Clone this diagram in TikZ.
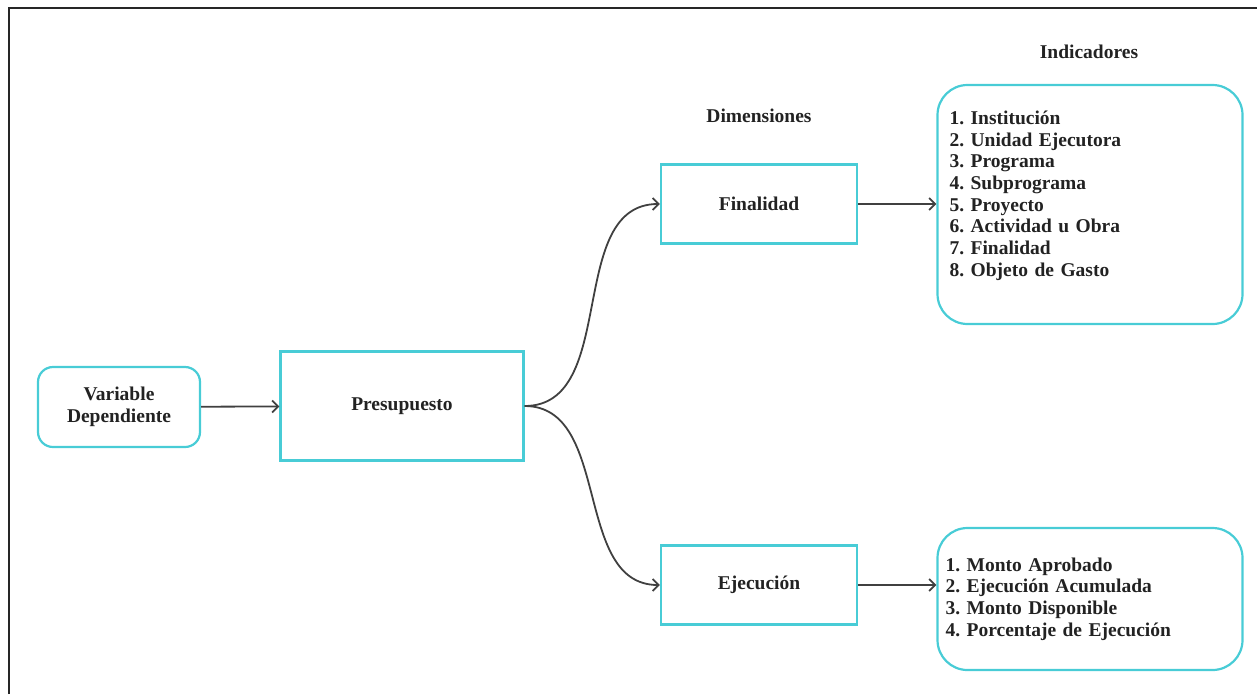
\documentclass[tikz,border=0pt]{standalone}
\usepackage{fontspec}
\setmainfont{Liberation Serif}
\usetikzlibrary{arrows.meta}
\definecolor{cian}{RGB}{72,204,214}
\definecolor{linea}{RGB}{64,64,64}
\definecolor{texto}{RGB}{34,34,34}

\begin{document}
\frenchspacing
\begin{tikzpicture}[x=1pt,y=-1pt,
    caja/.style={draw=cian, line width=2.2pt, text=texto, align=center,
        font=\fontsize{19.5}{21.7}\selectfont\bfseries},
    lista/.style={caja, rounded corners=30pt, align=left, inner xsep=10pt},
    titulo/.style={text=texto, font=\fontsize{19.5}{21.7}\selectfont\bfseries},
    flecha/.style={draw=linea, line width=1.8pt,
        -{Straight Barb[length=6pt,width=12pt,line width=1.8pt]}}]
    \useasboundingbox (0,0) rectangle (1257,694);

    % Rahmen
    \draw[line width=2.4pt, black!85] (9,694) -- (9,8) -- (1257,8);

    % Variable und Presupuesto
    \node[caja, rounded corners=15pt, minimum width=162pt, minimum height=80pt]
        (vardep) at (119,407) {Variable\\Dependiente};
    \node[caja, minimum width=243pt, minimum height=109pt]
        (presup) at (402,406) {Presupuesto};

    % Dimensiones
    \node[titulo] (dimen) at (759,116) {Dimensiones};
    \node[caja, minimum width=196pt, minimum height=79pt]
        (finalidad) at (759,204) {Finalidad};
    \node[caja, minimum width=196pt, minimum height=79pt]
        (ejecucion) at (759,585) {Ejecución};

    % Indicadores
    \node[titulo] (indic) at (1089,52) {Indicadores};
    \node[lista, minimum height=239pt, text width=281pt, inner xsep=12pt]
        (indfin) at (1090,204.5) {1. Institución\\2. Unidad Ejecutora\\3. Programa\\
        4. Subprograma\\5. Proyecto\\6. Actividad u Obra\\7. Finalidad\\
        8. Objeto de Gasto\\ \mbox{}};
    \node[lista, minimum height=142pt, text width=289pt, inner xsep=8pt]
        (indeje) at (1090,599) {1. Monto Aprobado\\2. Ejecución Acumulada\\
        3. Monto Disponible\\4. Porcentaje de Ejecución};

    % Verbindungen
    \draw[flecha] (vardep) -- (presup);
    \draw[flecha] (presup.east) to[out=0, in=180] (finalidad.west);
    \draw[flecha] (presup.east) to[out=0, in=180] (ejecucion.west);
    \draw[flecha] (finalidad.east) -- (finalidad.east -| indfin.west);
    \draw[flecha] (ejecucion.east) -- (ejecucion.east -| indeje.west);
\end{tikzpicture}
\end{document}
